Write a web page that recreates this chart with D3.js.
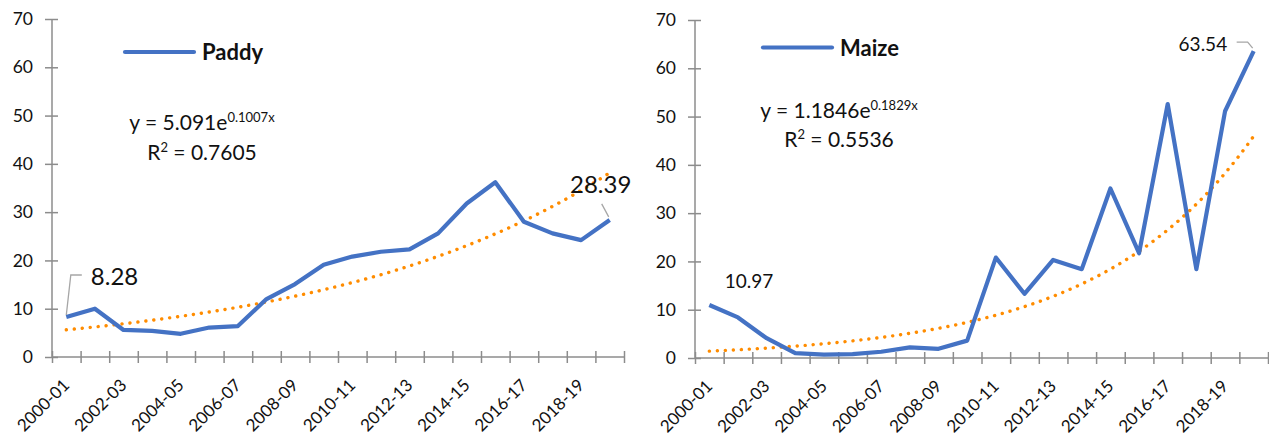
<!DOCTYPE html>
<html>
<head>
<meta charset="utf-8">
<script src="https://cdn.jsdelivr.net/npm/d3@7"></script>
<style>
  html, body { margin: 0; padding: 0; background: #fff; }
  svg { display: block; font-family: Lato, "Open Sans", sans-serif; }
</style>
</head>
<body>
<svg id="chart" width="1269" height="441"></svg>
<script>
// ---- data ----
const categories = ["2000-01","2001-02","2002-03","2003-04","2004-05","2005-06","2006-07","2007-08","2008-09","2009-10",
                    "2010-11","2011-12","2012-13","2013-14","2014-15","2015-16","2016-17","2017-18","2018-19","2019-20"];
const shownLabels = ["2000-01","2002-03","2004-05","2006-07","2008-09","2010-11","2012-13","2014-15","2016-17","2018-19"];
const yTicks = [0, 10, 20, 30, 40, 50, 60, 70];

const paddyValues = [8.28, 10.0, 5.6, 5.4, 4.8, 6.1, 6.4, 12.0, 15.1, 19.1, 20.8, 21.8, 22.3, 25.6, 31.8, 36.2, 28.0, 25.6, 24.2, 28.39];
const maizeValues = [10.97, 8.4, 4.1, 1.0, 0.7, 0.8, 1.3, 2.2, 1.9, 3.6, 20.8, 13.3, 20.3, 18.4, 35.1, 21.7, 52.6, 18.4, 51.1, 63.54];

// exponential trendline coefficients y = a * e^(b x)
const paddyTrend = [5.091, 0.1007];
const maizeTrend = [1.1846, 0.1829];
const paddyR2 = "0.7605";
const maizeR2 = "0.5536";

const svg = d3.select("#chart");
const LINE = "#4472C4", TREND = "#FF8C00", AXIS = "#8C8C8C", LEADER = "#A6A6A6";

function panel(cfg) {
  const g = svg.append("g");
  const x = d3.scaleBand().domain(categories).range([cfg.x0, cfg.x1]).padding(0);
  const bw = x.bandwidth();
  const cx = c => x(c) + bw / 2;
  const y = d3.scaleLinear().domain([0, 70]).range([cfg.yb, cfg.yt]);

  // y axis
  const ya = g.append("g").attr("transform", `translate(${cfg.x0},0)`)
    .call(d3.axisLeft(y).tickValues(yTicks).tickSize(7).tickPadding(12));
  ya.select(".domain").attr("stroke", AXIS).attr("stroke-width", 1.5).attr("d", `M0,${cfg.yb}V${cfg.yt}`);
  ya.selectAll(".tick line").attr("stroke", AXIS).attr("stroke-width", 1.5).attr("x1", 6).attr("x2", -7);
  ya.selectAll(".tick text").attr("font-size", 17.5).attr("fill", "#111").attr("font-family", "Lato");

  // x axis: ticks at category boundaries
  const xb = d3.scaleLinear().domain([0, categories.length]).range([cfg.x0, cfg.x1]);
  const xa = g.append("g").attr("transform", `translate(0,${cfg.yb})`)
    .call(d3.axisBottom(xb).tickValues(d3.range(0, categories.length + 1)).tickFormat("").tickSize(6));
  xa.select(".domain").attr("stroke", AXIS).attr("stroke-width", 1.5).attr("d", `M${cfg.x0},0H${cfg.x1}`);
  xa.selectAll(".tick line").attr("stroke", AXIS).attr("stroke-width", 1.5).attr("y1", -6).attr("y2", 6);

  // x labels
  g.append("g").selectAll("text").data(shownLabels).join("text")
    .attr("transform", d => `translate(${cx(d)},${cfg.yb + 25}) rotate(-45)`)
    .attr("text-anchor", "end").attr("dy", "0.35em")
    .attr("font-size", 17).attr("fill", "#111")
    .text(d => d);

  // trendline
  const [a, b] = cfg.trend;
  const xi = d3.scaleLinear().domain([1, categories.length]).range([cx(categories[0]), cx(categories[categories.length - 1])]);
  const ts = d3.range(1, categories.length + 0.001, 0.1);
  g.append("path").datum(ts)
    .attr("d", d3.line().x(t => xi(t)).y(t => y(a * Math.exp(b * t))))
    .attr("fill", "none").attr("stroke", TREND).attr("stroke-width", 3.4)
    .attr("stroke-linecap", "round").attr("stroke-dasharray", "0.1 7.9");

  // series line
  g.append("path").datum(cfg.values)
    .attr("d", d3.line().x((d, i) => cx(categories[i])).y(d => y(d)))
    .attr("fill", "none").attr("stroke", LINE).attr("stroke-width", 4.2)
    .attr("stroke-linejoin", "round");

  // legend
  g.append("line").attr("x1", cfg.leg[0]).attr("x2", cfg.leg[0] + 69).attr("y1", cfg.leg[1]).attr("y2", cfg.leg[1])
    .attr("stroke", LINE).attr("stroke-width", 4.2).attr("stroke-linecap", "round");
  g.append("text").attr("x", cfg.leg[0] + 77).attr("y", cfg.leg[1] + 8)
    .attr("font-size", 22).attr("font-weight", "bold").attr("fill", "#111").text(cfg.name);

  // equation
  const eq = g.append("text").attr("x", cfg.eq[0]).attr("y", cfg.eq[1]).attr("text-anchor", "middle")
    .attr("font-size", 21).attr("fill", "#111");
  eq.append("tspan").text(`y = ${a}e`);
  eq.append("tspan").attr("font-size", 13).attr("dy", -8).text(`${b}x`);
  const r2 = g.append("text").attr("x", cfg.eq[0]).attr("y", cfg.eq[2]).attr("text-anchor", "middle")
    .attr("font-size", 21).attr("fill", "#111");
  r2.append("tspan").text("R");
  r2.append("tspan").attr("font-size", 13).attr("dy", -8).text("2");
  r2.append("tspan").attr("dy", 8).text(` = ${cfg.r2}`);

  return { cx, y };
}

// ---- Paddy ----
const P = panel({ x0: 52, x1: 624, yb: 357, yt: 19, values: paddyValues, trend: paddyTrend, r2: paddyR2,
                  name: "Paddy", leg: [125, 52], eq: [202, 130, 160] });
{
  const n = paddyValues.length;
  let px = P.cx(categories[0]), py = P.y(paddyValues[0]);
  svg.append("path").attr("d", d3.line()([[px, py - 2], [px + 4.5, py - 42], [px + 15.5, py - 42]]))
    .attr("fill", "none").attr("stroke", LEADER).attr("stroke-width", 1.3);
  svg.append("text").attr("x", px + 24.5).attr("y", py - 32).attr("font-size", 24).attr("fill", "#111")
    .text(paddyValues[0].toFixed(2));
  px = P.cx(categories[n - 1]); py = P.y(paddyValues[n - 1]);
  svg.append("path").attr("d", d3.line()([[px - 1, py - 3], [px - 8, py - 16]]))
    .attr("fill", "none").attr("stroke", LEADER).attr("stroke-width", 1.3);
  svg.append("text").attr("x", px - 9).attr("y", py - 27).attr("text-anchor", "middle").attr("font-size", 24).attr("fill", "#111")
    .text(paddyValues[n - 1].toFixed(2));
}

// ---- Maize ----
const M = panel({ x0: 695, x1: 1268, yb: 358, yt: 20, values: maizeValues, trend: maizeTrend, r2: maizeR2,
                  name: "Maize", leg: [763, 47.5], eq: [839, 118, 147] });
{
  const n = maizeValues.length;
  let px = M.cx(categories[0]), py = M.y(maizeValues[0]);
  svg.append("text").attr("x", px + 15.5).attr("y", py - 17.5).attr("font-size", 19).attr("fill", "#111")
    .text(maizeValues[0].toFixed(2));
  px = M.cx(categories[n - 1]); py = M.y(maizeValues[n - 1]);
  svg.append("path").attr("d", d3.line()([[px - 17, py - 9], [px - 6, py - 9], [px - 1, py - 3]]))
    .attr("fill", "none").attr("stroke", LEADER).attr("stroke-width", 1.3);
  svg.append("text").attr("x", px - 26.5).attr("y", py - 0.5).attr("text-anchor", "end").attr("font-size", 19).attr("fill", "#111")
    .text(maizeValues[n - 1].toFixed(2));
}
</script>
</body>
</html>
